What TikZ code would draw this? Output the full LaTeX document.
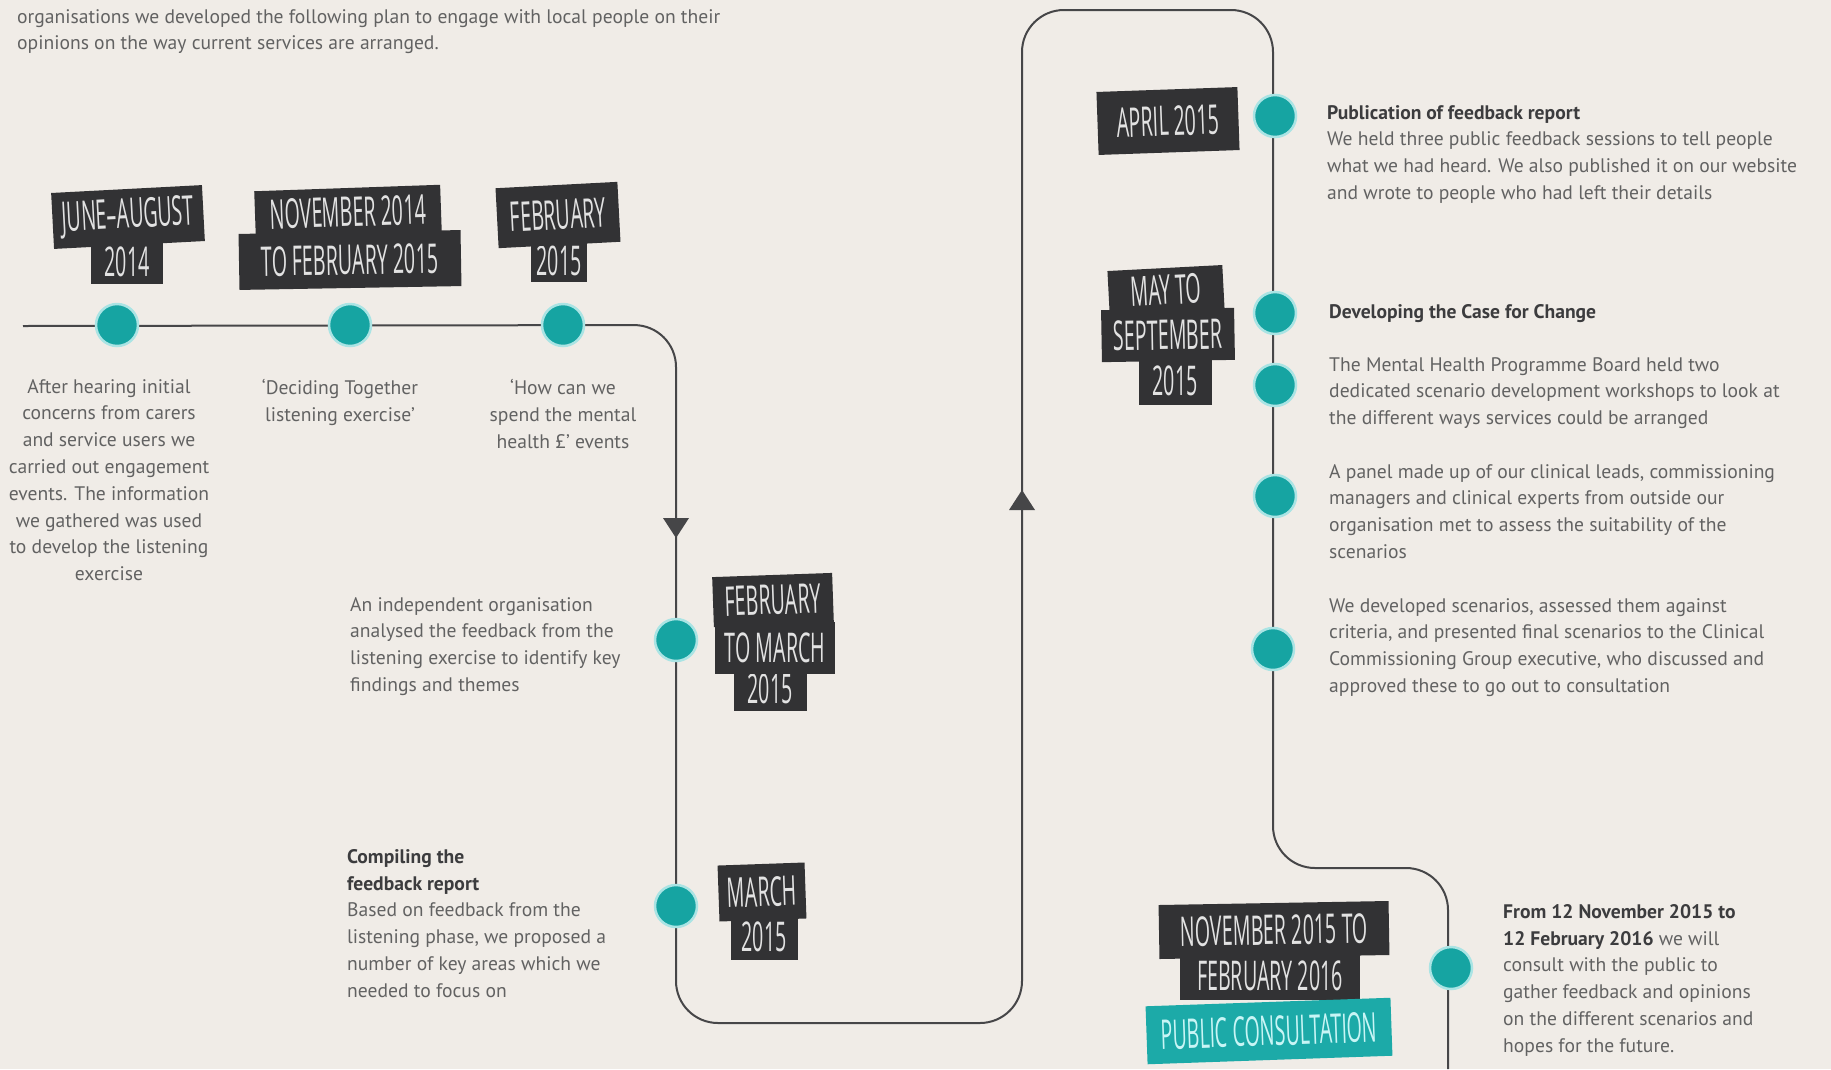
\documentclass[tikz,border=0pt]{standalone}
\usepackage{fontspec}
\setmainfont{PT Sans}
\newfontfamily\datefont[FakeStretch=0.48]{Open Sans}
\definecolor{bgcol}{RGB}{240,236,231}
\definecolor{linecol}{RGB}{70,70,72}
\definecolor{bodygray}{RGB}{98,98,98}
\definecolor{titlegray}{RGB}{60,60,62}
\definecolor{boxdark}{RGB}{50,50,52}
\definecolor{datewhite}{RGB}{226,226,226}
\definecolor{dotteal}{RGB}{22,164,162}
\definecolor{dothalo}{RGB}{170,228,228}
\definecolor{pcteal}{RGB}{28,170,168}
\definecolor{pctext}{RGB}{200,245,245}
\newcommand{\bodysize}{\fontsize{19.6}{26.8}\selectfont}
\newcommand{\ttl}[1]{\textcolor{titlegray}{\bfseries #1}}
\tikzset{
  body/.style={font=\bodysize, text=bodygray, inner sep=0pt, align=left, anchor=north west},
  bodyc/.style={body, align=center, anchor=north},
  datebox/.style={fill=boxdark, text=datewhite, font=\datefont\fontsize{41}{41}\selectfont, inner sep=0pt},
  pcbox/.style={datebox, fill=pcteal, text=pctext},
  tdot/.style={circle, fill=dotteal, draw=dothalo, line width=2.5pt, minimum size=42pt, inner sep=0pt},
  tline/.style={draw=linecol, line width=2pt, rounded corners=42pt},
}
\begin{document}
\begin{tikzpicture}[x=1pt,y=-1pt]
\fill[bgcol] (0,0) rectangle (1831,1069);
\useasboundingbox (0,0) rectangle (1831,1069);

% timeline coordinates
\coordinate (start) at (23,326);
\coordinate (p1) at (117,325);
\coordinate (p2) at (350,325);
\coordinate (p3) at (563,325);
\coordinate (k1) at (676,325);
\coordinate (p4) at (676,640);
\coordinate (p5) at (676,906);
\coordinate (k2) at (676,1023);
\coordinate (k3) at (1022,1023);
\coordinate (k4) at (1022,10);
\coordinate (k5) at (1273,10);
\coordinate (p6) at (1275,116);
\coordinate (p7) at (1275,313);
\coordinate (p8) at (1275,385);
\coordinate (p9) at (1275,496);
\coordinate (p10) at (1273,649);
\coordinate (k6) at (1273,868);
\coordinate (k7) at (1448,868);
\coordinate (p11) at (1451,968);
\coordinate (end) at (1448,1069);
\coordinate (adown) at (676,528);
\coordinate (aup) at (1022,500);

\draw[tline] (start) -- (k1) -- (k2) -- (k3) -- (k4) -- (k5) -- (k6) -- (k7) -- (end);
\fill[linecol] (adown) ++(-13,-10) -- ++(26,0) -- ++(-13,20) -- cycle;
\fill[linecol] (aup) ++(-13,10) -- ++(26,0) -- ++(-13,-20) -- cycle;

% dots
\foreach \i in {1,...,11} { \node[tdot] (d\i) at (p\i) {}; }

% intro text
\node[body] (intro) at (17,9) {organisations we developed the following plan to engage with local people on their\\opinions on the way current services are arranged.};

% date labels
\node[datebox, minimum width=72pt, minimum height=44pt] (j2) at (127,262) {2014};
\node[datebox, minimum width=151pt, minimum height=56pt, rotate=3] (j1) at (128,217) {JUNE–AUGUST};
\node[datebox, minimum width=222pt, minimum height=56pt, rotate=1] (n2) at (350,260) {TO FEBRUARY 2015};
\node[datebox, minimum width=186pt, minimum height=48pt, rotate=2] (n1) at (348,212) {NOVEMBER 2014};
\node[datebox, minimum width=56pt, minimum height=42pt] (f2) at (559,261) {2015};
\node[datebox, minimum width=122pt, minimum height=60pt, rotate=3] (f1) at (558,215) {FEBRUARY};
\node[datebox, minimum width=141pt, minimum height=63pt, rotate=2] (a1) at (1168,121) {APRIL 2015};
\node[datebox, minimum width=73pt, minimum height=48pt] (m3) at (1175,381) {2015};
\node[datebox, minimum width=133pt, minimum height=52pt, rotate=1] (m2) at (1168,335) {SEPTEMBER};
\node[datebox, minimum width=115pt, minimum height=44pt, rotate=3] (m1) at (1166,290) {MAY TO};
\node[datebox, minimum width=73pt, minimum height=43pt] (fm3) at (770,689) {2015};
\node[datebox, minimum width=120pt, minimum height=52pt] (fm2) at (775,648) {TO MARCH};
\node[datebox, minimum width=120pt, minimum height=50pt, rotate=2] (fm1) at (773,600) {FEBRUARY};
\node[datebox, minimum width=67pt, minimum height=45pt] (ma2) at (764,937) {2015};
\node[datebox, minimum width=87pt, minimum height=56pt, rotate=2] (ma1) at (762,892) {MARCH};
\node[datebox, minimum width=180pt, minimum height=48pt] (nf2) at (1270,976) {FEBRUARY 2016};
\node[datebox, minimum width=230pt, minimum height=54pt, rotate=1] (nf1) at (1274,930) {NOVEMBER 2015 TO};
\node[pcbox, minimum width=245pt, minimum height=58pt, rotate=2] (pc) at (1269,1031) {PUBLIC CONSULTATION};

% descriptions
\node[bodyc] (t1) at (109,379) {After hearing initial\\concerns from carers\\and service users we\\carried out engagement\\events. The information\\we gathered was used\\to develop the listening\\exercise};
\node[bodyc] (t2) at (340,379) {‘Deciding Together\\listening exercise’};
\node[bodyc] (t3) at (563,379) {‘How can we\\spend the mental\\health £’ events};
\node[body] (t4) at (350,597) {An independent organisation\\analysed the feedback from the\\listening exercise to identify key\\findings and themes};
\node[body] (t5) at (347,849) {\ttl{Compiling the}\\\ttl{feedback report}\\Based on feedback from the\\listening phase, we proposed a\\number of key areas which we\\needed to focus on};
\node[body] (t6) at (1327,105) {\ttl{Publication of feedback report}\\We held three public feedback sessions to tell people\\what we had heard. We also published it on our website\\and wrote to people who had left their details};
\node[body] (t7) at (1329,304) {\ttl{Developing the Case for Change}};
\node[body] (t8) at (1329,357) {The Mental Health Programme Board held two\\dedicated scenario development workshops to look at\\the different ways services could be arranged};
\node[body] (t9) at (1329,464) {A panel made up of our clinical leads, commissioning\\managers and clinical experts from outside our\\organisation met to assess the suitability of the\\scenarios};
\node[body] (t10) at (1329,598) {We developed scenarios, assessed them against\\criteria, and presented final scenarios to the Clinical\\Commissioning Group executive, who discussed and\\approved these to go out to consultation};
\node[body] (t11) at (1503,904) {\ttl{From 12 November 2015 to}\\\ttl{12 February 2016} we will\\consult with the public to\\gather feedback and opinions\\on the different scenarios and\\hopes for the future.};
\end{tikzpicture}
\end{document}
